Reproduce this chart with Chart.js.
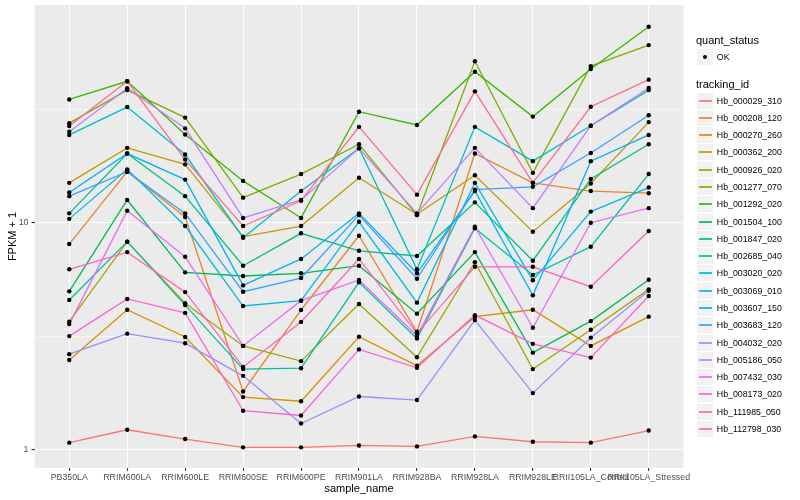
<!DOCTYPE html>
<html><head><meta charset="utf-8">
<script src="https://cdn.jsdelivr.net/npm/chart.js@4.4.1/dist/chart.umd.min.js"></script>
<style>
html,body{margin:0;padding:0;background:#fff;}
#wrap{position:relative;width:800px;height:500px;font-family:"Liberation Sans",Arial,Helvetica,sans-serif;}
canvas{position:absolute;left:0;top:0;}
.lg{position:absolute;white-space:nowrap;line-height:1;color:#000;}
.row{position:absolute;display:flex;align-items:center;white-space:nowrap;font-size:8.8px;color:#000;}
.key{position:relative;background:#F2F2F2;flex:none;}
</style></head><body>
<div id="wrap"><canvas id="c" width="800" height="500"></canvas><div id="legend"></div></div>
<script>
const categories = ["PB350LA","RRIM600LA","RRIM600LE","RRIM600SE","RRIM600PE","RRIM901LA","RRIM928BA","RRIM928LA","RRIM928LE","RRII105LA_Control","RRII105LA_Stressed"];
const trackingIds = ["Hb_000029_310","Hb_000208_120","Hb_000270_260","Hb_000362_200","Hb_000926_020","Hb_001277_070","Hb_001292_020","Hb_001504_100","Hb_001847_020","Hb_002685_040","Hb_003020_020","Hb_003069_010","Hb_003607_150","Hb_003683_120","Hb_004032_020","Hb_005186_050","Hb_007432_030","Hb_008173_020","Hb_111985_050","Hb_112798_030"];
const quantStatus = ["OK"];
const yTickLabels = [1, 10];
const yMinorBreaks = [3.1623, 31.623];

const Hb_000029_310 = [1.07, 1.22, 1.11, 1.02, 1.02, 1.04, 1.03, 1.14, 1.08, 1.07, 1.21];
const Hb_000208_120 = [8.05, 16.8, 10.6, 1.80, 4.12, 8.76, 3.30, 20.2, 15.0, 13.8, 13.5];
const Hb_000270_260 = [2.48, 4.13, 3.13, 1.70, 1.63, 3.14, 2.34, 3.85, 4.13, 2.86, 3.85];
const Hb_000362_200 = [15.0, 21.4, 18.1, 8.68, 9.67, 15.8, 10.9, 16.2, 9.13, 14.9, 27.8];
const Hb_000926_020 = [3.66, 8.25, 4.41, 2.86, 2.45, 4.38, 2.55, 6.69, 2.26, 3.37, 5.08];
const Hb_001277_070 = [27.5, 38.5, 29.1, 12.9, 16.4, 22.2, 10.8, 51.6, 16.6, 49.1, 60.8];
const Hb_001292_020 = [35.0, 42.1, 24.5, 15.3, 10.5, 30.9, 27.0, 46.4, 29.4, 47.7, 73.3];
const Hb_001504_100 = [4.98, 12.6, 6.04, 5.82, 5.98, 6.46, 3.97, 7.42, 2.67, 3.68, 5.60];
const Hb_001847_020 = [11.0, 20.2, 13.1, 6.46, 8.98, 7.52, 7.13, 12.3, 6.80, 15.6, 22.2];
const Hb_002685_040 = [4.56, 8.25, 4.33, 2.26, 2.28, 5.46, 3.08, 9.45, 5.88, 7.84, 16.4];
const Hb_003020_020 = [24.4, 32.4, 20.0, 8.59, 13.8, 21.3, 6.23, 26.5, 18.7, 26.8, 38.5];
const Hb_003069_010 = [10.4, 17.2, 9.67, 4.29, 4.53, 10.1, 4.44, 15.0, 5.57, 11.2, 14.3];
const Hb_003607_150 = [13.6, 20.2, 15.5, 5.29, 6.92, 11.0, 5.98, 13.8, 4.78, 18.7, 24.4];
const Hb_003683_120 = [13.1, 16.8, 11.0, 4.96, 5.70, 10.8, 5.66, 14.0, 14.4, 20.3, 29.8];
const Hb_004032_020 = [2.63, 3.24, 2.94, 2.11, 1.30, 1.71, 1.65, 3.72, 1.77, 3.11, 5.01];
const Hb_005186_050 = [25.2, 39.2, 26.1, 10.5, 12.6, 21.3, 11.0, 21.4, 11.6, 26.8, 39.3];
const Hb_007432_030 = [3.57, 11.3, 7.08, 2.86, 4.53, 5.59, 3.17, 9.60, 3.44, 10.0, 11.6];
const Hb_008173_020 = [3.16, 4.61, 4.00, 1.48, 1.41, 2.76, 2.29, 3.91, 2.92, 2.54, 4.75];
const Hb_111985_050 = [6.23, 7.42, 4.94, 2.31, 3.65, 6.92, 3.25, 6.39, 6.39, 5.22, 9.19];
const Hb_112798_030 = [26.7, 42.1, 19.0, 9.67, 12.5, 26.5, 13.3, 38.0, 15.0, 32.5, 42.8];

const seriesValues = [Hb_000029_310, Hb_000208_120, Hb_000270_260, Hb_000362_200, Hb_000926_020, Hb_001277_070, Hb_001292_020, Hb_001504_100, Hb_001847_020, Hb_002685_040, Hb_003020_020, Hb_003069_010, Hb_003607_150, Hb_003683_120, Hb_004032_020, Hb_005186_050, Hb_007432_030, Hb_008173_020, Hb_111985_050, Hb_112798_030];

const palette = ["#F8766D","#EA8331","#D89000","#C09B00","#A3A500","#7CAE00","#39B600","#00BB4E","#00BF7D","#00C1A3","#00BFC4","#00BAE0","#00B0F6","#35A2FF","#9590FF","#C77CFF","#E76BF3","#FA62DB","#FF62BC","#FF6C91"];

const FONT = '"Liberation Sans", Arial, Helvetica, sans-serif';

const lineSets = seriesValues.map((vals, i) => ({
  type: 'line',
  label: trackingIds[i],
  data: vals.map((v, j) => ({x: j, y: v})),
  borderColor: palette[i],
  backgroundColor: palette[i],
  borderWidth: 1.3,
  pointRadius: 0,
  fill: false,
  tension: 0,
  order: -i
}));
const pointSet = {
  type: 'scatter',
  label: quantStatus[0],
  data: seriesValues.flatMap(vals => vals.map((v, j) => ({x: j, y: v}))),
  backgroundColor: '#000',
  borderColor: '#000',
  pointRadius: 2.2,
  borderWidth: 0,
  showLine: false,
  order: -100
};

const panelBg = {
  id: 'panelBg',
  beforeDraw(chart) {
    const {ctx, chartArea: a} = chart;
    ctx.save();
    ctx.fillStyle = '#fff';
    ctx.fillRect(0, 0, chart.width, chart.height);
    ctx.fillStyle = '#EBEBEB';
    ctx.fillRect(a.left, a.top, a.right - a.left, a.bottom - a.top);
    ctx.restore();
  }
};

const isMajor = v => yTickLabels.includes(v);
const noPad = s => { s.paddingTop = 0; s.paddingBottom = 0; s.paddingLeft = 0; s.paddingRight = 0; };

new Chart(document.getElementById('c'), {
  type: 'line',
  data: {datasets: [...lineSets, pointSet]},
  plugins: [panelBg],
  options: {
    responsive: false,
    animation: false,
    devicePixelRatio: 1,
    layout: {padding: {top: 5, right: 116.5, left: 0, bottom: 0}},
    plugins: {legend: {display: false}, tooltip: {enabled: false}},
    scales: {
      x: {
        type: 'linear', min: -0.6, max: 10.6,
        afterBuildTicks: s => { s.ticks = categories.map((_, i) => ({value: i})); },
        afterFit: s => { s.height = 32; noPad(s); },
        ticks: {callback: v => categories[v], autoSkip: false, maxRotation: 0, minRotation: 0,
                color: '#4D4D4D', font: {size: 8.8, family: FONT}, padding: 1},
        grid: {color: '#fff', lineWidth: 1.07, tickLength: 3, tickColor: '#333333', drawTicks: true},
        border: {display: false},
        title: {display: true, text: 'sample_name', color: '#000', font: {size: 11, family: FONT}, padding: {top: 1, bottom: 4}}
      },
      y: {
        type: 'logarithmic', min: 0.827, max: 91.4,
        afterBuildTicks: s => {
          s.ticks = [...yTickLabels, ...yMinorBreaks].sort((a, b) => a - b).map(v => ({value: v}));
        },
        afterFit: s => { s.width = 34.5; noPad(s); },
        ticks: {callback: v => isMajor(v) ? String(v) : '', autoSkip: false,
                color: '#4D4D4D', font: {size: 8.8, family: FONT}, padding: 3},
        grid: {
          color: '#fff',
          lineWidth: c => (c.tick && isMajor(c.tick.value)) ? 1.07 : 0.53,
          tickLength: 3,
          tickColor: c => (c.tick && isMajor(c.tick.value)) ? '#333333' : 'rgba(0,0,0,0)'
        },
        border: {display: false},
        title: {display: true, text: 'FPKM + 1', color: '#000', font: {size: 11, family: FONT}, padding: {top: 6, bottom: 0}}
      }
    }
  }
});

// legend (HTML text)
const lg = document.getElementById('legend');
function el(tag, cls, style, text) {
  const e = document.createElement(tag);
  if (cls) e.className = cls;
  Object.assign(e.style, style);
  if (text !== undefined) e.textContent = text;
  return e;
}
lg.appendChild(el('div', 'lg', {left: '696px', top: '35px', fontSize: '11px'}, 'quant_status'));
{
  const row = el('div', 'row', {left: '697px', top: '49px', height: '16px'});
  const key = el('div', 'key', {width: '16px', height: '16px'});
  key.appendChild(el('div', '', {position: 'absolute', left: '6px', top: '6px', width: '4.4px', height: '4.4px', borderRadius: '50%', background: '#000'}));
  row.appendChild(key);
  row.appendChild(el('span', '', {marginLeft: '3.8px'}, quantStatus[0]));
  lg.appendChild(row);
}
lg.appendChild(el('div', 'lg', {left: '696px', top: '79px', fontSize: '11px'}, 'tracking_id'));
trackingIds.forEach((id, i) => {
  const top = Math.round(92.6 + i * 17.28);
  const row = el('div', 'row', {left: '697px', top: top + 'px', height: '16px'});
  const key = el('div', 'key', {width: '16px', height: '16px'});
  key.appendChild(el('div', '', {position: 'absolute', left: '1.5px', top: '7px', width: '13px', height: '2px', background: palette[i], opacity: '0.85'}));
  row.appendChild(key);
  row.appendChild(el('span', '', {marginLeft: '3.8px'}, id));
  lg.appendChild(row);
});
</script>
</body></html>
